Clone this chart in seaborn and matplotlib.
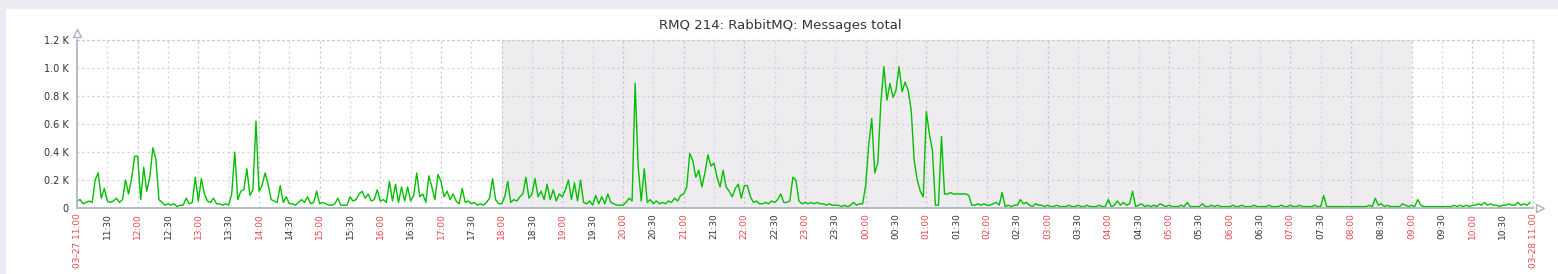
import numpy as np
import pandas as pd
import matplotlib
matplotlib.use("Agg")
import matplotlib.pyplot as plt
from matplotlib.patches import Rectangle
import seaborn as sns

# ---------------- data (K messages, one value per 3 minutes, 20 per hour) ----------------
title = "RMQ 214: RabbitMQ: Messages total"

# 11:00 - 16:57
values_11_to_17 = [
    0.05, 0.06, 0.03, 0.04, 0.05, 0.04, 0.20, 0.25, 0.07, 0.14, 0.05, 0.04, 0.05, 0.07, 0.04, 0.06, 0.20, 0.10, 0.21, 0.37,
    0.37, 0.06, 0.29, 0.12, 0.22, 0.43, 0.35, 0.06, 0.04, 0.02, 0.03, 0.02, 0.03, 0.01, 0.02, 0.02, 0.07, 0.03, 0.04, 0.22,
    0.05, 0.21, 0.10, 0.05, 0.04, 0.07, 0.03, 0.03, 0.02, 0.03, 0.02, 0.10, 0.40, 0.06, 0.12, 0.13, 0.28, 0.09, 0.13, 0.62,
    0.12, 0.16, 0.25, 0.17, 0.06, 0.05, 0.04, 0.16, 0.04, 0.08, 0.03, 0.03, 0.02, 0.04, 0.06, 0.04, 0.08, 0.03, 0.04, 0.12,
    0.03, 0.04, 0.03, 0.02, 0.02, 0.03, 0.07, 0.02, 0.02, 0.02, 0.08, 0.05, 0.06, 0.10, 0.12, 0.07, 0.10, 0.05, 0.06, 0.13,
    0.05, 0.06, 0.04, 0.19, 0.05, 0.17, 0.04, 0.15, 0.05, 0.15, 0.05, 0.09, 0.25, 0.08, 0.10, 0.04, 0.23, 0.15, 0.06, 0.24,
]
# 17:00 - 22:57
values_17_to_23 = [
    0.19, 0.08, 0.12, 0.06, 0.10, 0.05, 0.03, 0.14, 0.04, 0.05, 0.03, 0.04, 0.02, 0.03, 0.02, 0.04, 0.07, 0.21, 0.06, 0.03,
    0.03, 0.08, 0.19, 0.04, 0.06, 0.05, 0.08, 0.10, 0.22, 0.07, 0.10, 0.21, 0.08, 0.12, 0.06, 0.17, 0.06, 0.13, 0.05, 0.10,
    0.08, 0.13, 0.20, 0.06, 0.18, 0.05, 0.20, 0.04, 0.03, 0.05, 0.02, 0.09, 0.03, 0.08, 0.03, 0.10, 0.04, 0.03, 0.02, 0.02,
    0.02, 0.04, 0.07, 0.05, 0.89, 0.30, 0.05, 0.28, 0.04, 0.06, 0.03, 0.05, 0.03, 0.04, 0.03, 0.05, 0.04, 0.07, 0.05, 0.09,
    0.10, 0.15, 0.39, 0.34, 0.22, 0.27, 0.15, 0.25, 0.38, 0.30, 0.32, 0.22, 0.15, 0.27, 0.15, 0.12, 0.08, 0.14, 0.17, 0.07,
    0.16, 0.16, 0.08, 0.04, 0.05, 0.03, 0.03, 0.04, 0.03, 0.05, 0.04, 0.06, 0.10, 0.04, 0.04, 0.05, 0.22, 0.20, 0.05, 0.03,
]
# 23:00 - 04:57
values_23_to_05 = [
    0.04, 0.03, 0.04, 0.03, 0.04, 0.03, 0.03, 0.02, 0.03, 0.02, 0.02, 0.02, 0.01, 0.02, 0.01, 0.02, 0.04, 0.02, 0.03, 0.03,
    0.16, 0.45, 0.64, 0.25, 0.32, 0.75, 1.01, 0.77, 0.89, 0.79, 0.84, 1.01, 0.83, 0.90, 0.84, 0.70, 0.34, 0.20, 0.12, 0.08,
    0.69, 0.53, 0.41, 0.02, 0.02, 0.51, 0.10, 0.10, 0.11, 0.10, 0.10, 0.10, 0.10, 0.10, 0.09, 0.02, 0.02, 0.03, 0.02, 0.03,
    0.02, 0.02, 0.03, 0.04, 0.02, 0.11, 0.01, 0.02, 0.01, 0.02, 0.02, 0.06, 0.03, 0.04, 0.02, 0.01, 0.03, 0.02, 0.02, 0.01,
    0.02, 0.01, 0.01, 0.02, 0.01, 0.01, 0.01, 0.02, 0.01, 0.01, 0.02, 0.01, 0.01, 0.02, 0.01, 0.01, 0.01, 0.02, 0.01, 0.01,
    0.06, 0.01, 0.02, 0.05, 0.02, 0.04, 0.02, 0.03, 0.12, 0.01, 0.02, 0.03, 0.01, 0.02, 0.01, 0.02, 0.01, 0.03, 0.02, 0.01,
]
# 05:00 - 10:57
values_05_to_11 = [
    0.02, 0.01, 0.01, 0.01, 0.02, 0.01, 0.04, 0.01, 0.01, 0.01, 0.01, 0.03, 0.01, 0.01, 0.02, 0.01, 0.02, 0.01, 0.01, 0.01,
    0.01, 0.02, 0.01, 0.01, 0.02, 0.01, 0.01, 0.01, 0.02, 0.01, 0.01, 0.01, 0.01, 0.02, 0.01, 0.01, 0.01, 0.02, 0.01, 0.01,
    0.02, 0.01, 0.01, 0.02, 0.01, 0.01, 0.01, 0.01, 0.02, 0.01, 0.01, 0.09, 0.01, 0.01, 0.01, 0.01, 0.01, 0.01, 0.01, 0.01,
    0.01, 0.01, 0.01, 0.01, 0.01, 0.01, 0.02, 0.01, 0.07, 0.02, 0.03, 0.01, 0.02, 0.01, 0.01, 0.01, 0.01, 0.03, 0.02, 0.01,
    0.02, 0.01, 0.06, 0.02, 0.01, 0.01, 0.01, 0.01, 0.01, 0.01, 0.01, 0.01, 0.01, 0.01, 0.02, 0.01, 0.02, 0.01, 0.02, 0.01,
    0.02, 0.02, 0.03, 0.02, 0.04, 0.02, 0.03, 0.02, 0.02, 0.01, 0.02, 0.02, 0.03, 0.02, 0.02, 0.04, 0.02, 0.03, 0.02, 0.04,
]

x_tick_labels = ["03-27 11:00", "11:30", "12:00", "12:30", "13:00", "13:30", "14:00", "14:30",
                 "15:00", "15:30", "16:00", "16:30", "17:00", "17:30", "18:00", "18:30",
                 "19:00", "19:30", "20:00", "20:30", "21:00", "21:30", "22:00", "22:30",
                 "23:00", "23:30", "00:00", "00:30", "01:00", "01:30", "02:00", "02:30",
                 "03:00", "03:30", "04:00", "04:30", "05:00", "05:30", "06:00", "06:30",
                 "07:00", "07:30", "08:00", "08:30", "09:00", "09:30", "10:00", "10:30",
                 "03-28 11:00"]
y_ticks = [0, 0.2, 0.4, 0.6, 0.8, 1.0, 1.2]
y_tick_labels = ["0", "0.2 K", "0.4 K", "0.6 K", "0.8 K", "1.0 K", "1.2 K"]
night_start_h, night_end_h = 7, 22   # 18:00 .. 09:00 (hours after 11:00)

values = values_11_to_17 + values_17_to_23 + values_23_to_05 + values_05_to_11
df = pd.DataFrame({"hours": np.arange(len(values)) * 3 / 60.0, "messages": values})

# ---------------- figure ----------------
sns.set_style("white")
plt.rcParams["font.family"] = ["DejaVu Sans"]

W, H = 1558, 274
fig = plt.figure(figsize=(W / 100, H / 100), dpi=100)
fig.patch.set_facecolor("white")
fig.add_artist(Rectangle((0, 1 - 9 / H), 1, 9 / H, transform=fig.transFigure,
                         facecolor="#EBEBF2", edgecolor="none", zorder=-5))
fig.add_artist(Rectangle((0, 0), 6 / W, 1, transform=fig.transFigure,
                         facecolor="#EBEBF2", edgecolor="none", zorder=-5))

x0, x1, ytop, ybot = 77, 1533, 40, 208
ax = fig.add_axes([x0 / W, (H - ybot) / H, (x1 - x0) / W, (ybot - ytop) / H])
ax.set_facecolor("white")

ax.axvspan(night_start_h, night_end_h, facecolor="#EFECEF", edgecolor="none", zorder=0)

sns.lineplot(data=df, x="hours", y="messages", ax=ax, color="#00C000", linewidth=1.0, zorder=3)

ax.set_xlim(0, 24)
ax.set_ylim(0, 1.2)

# grid
for i in range(1, 48):
    h = i * 0.5
    ax.axvline(h, color="#B9C1CD" if i % 2 == 0 else "#CDD3DC", linestyle=(0, (1.5, 2.5)),
               linewidth=0.9, zorder=1)
for v in y_ticks[1:]:
    ax.axhline(v, color="#C6CDD7", linestyle=(0, (1.5, 2.5)), linewidth=0.9, zorder=1)

for s in ["top", "right"]:
    ax.spines[s].set_color("#C6CDD7")
    ax.spines[s].set_linestyle((0, (1.5, 2.5)))
    ax.spines[s].set_linewidth(0.9)
for s in ["left", "bottom"]:
    ax.spines[s].set_color("#A9B1BC")
    ax.spines[s].set_linewidth(1.2)
    ax.spines[s].set_zorder(4)

# axis arrows
ax.plot([0], [1.0 + 7 / 168], marker="^", markersize=6, markerfacecolor="white",
        markeredgecolor="#A9B1BC", transform=ax.transAxes, clip_on=False)
ax.plot([1.0 + 7 / 1456], [0], marker=">", markersize=6, markerfacecolor="white",
        markeredgecolor="#A9B1BC", transform=ax.transAxes, clip_on=False)

ax.set_yticks(y_ticks)
ax.set_yticklabels(y_tick_labels)
ax.tick_params(axis="y", length=0, pad=6, labelsize=7, labelcolor="#333333")

ax.set_xticks(np.arange(len(x_tick_labels)) * 0.5)
ax.set_xticklabels(x_tick_labels, rotation=90, va="top", ha="center")
ax.tick_params(axis="x", length=0, pad=4, labelsize=6.5)
for i, lab in enumerate(ax.get_xticklabels()):
    lab.set_color("#E8474F" if i % 2 == 0 else "#333333")

ax.set_xlabel("")
ax.set_ylabel("")

fig.text(780 / W, 1 - 25 / H, title, ha="center", va="center", fontsize=9.5, color="#333333")

fig.savefig("out.png", dpi=100, facecolor=fig.get_facecolor())
